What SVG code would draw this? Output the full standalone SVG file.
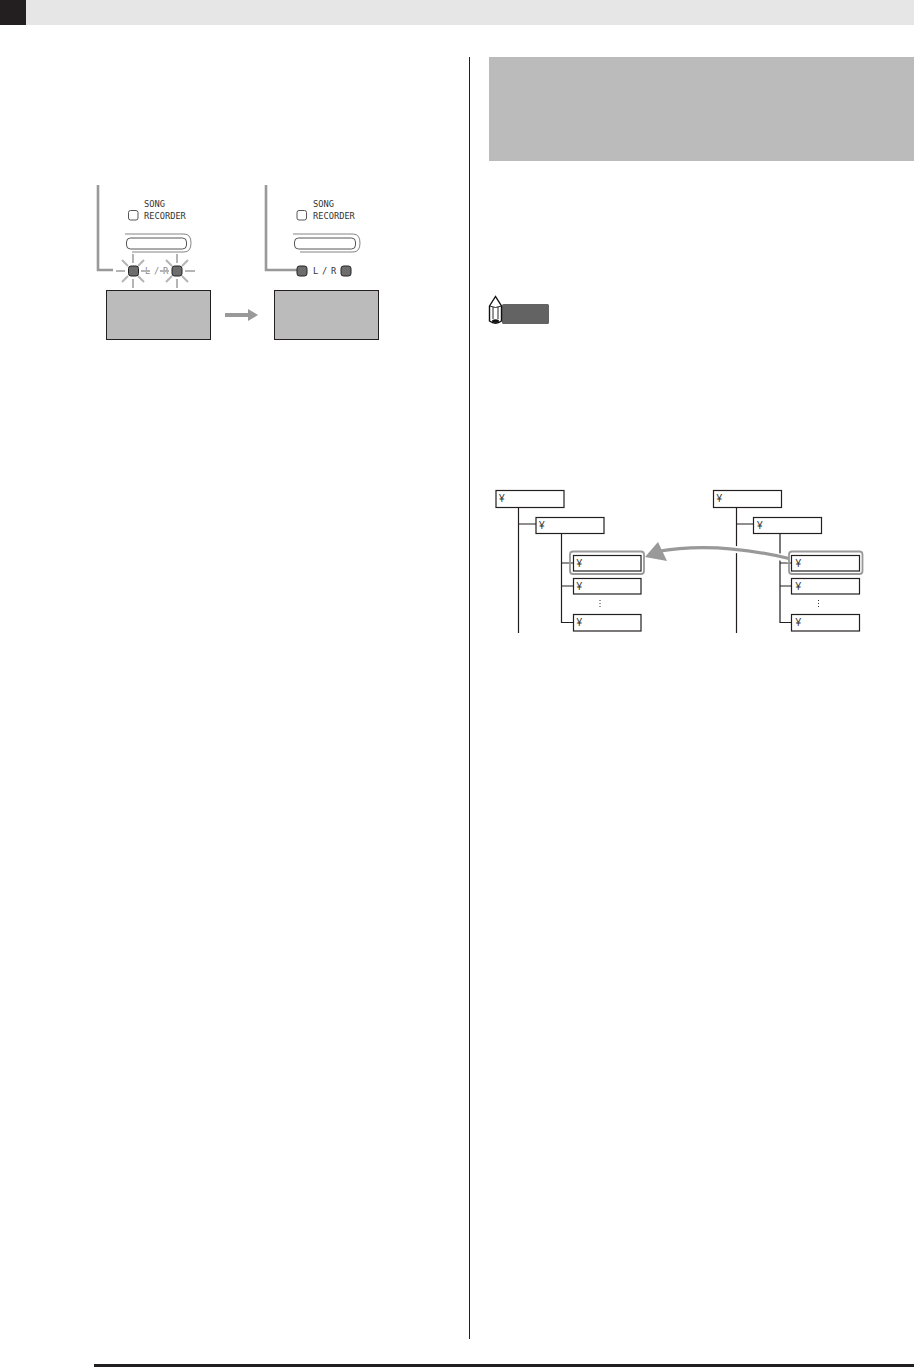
<svg xmlns="http://www.w3.org/2000/svg" width="914" height="1367" viewBox="0 0 914 1367">
<style>
.t{font-family:"DejaVu Sans Mono","Liberation Mono",monospace;font-size:8.700px;fill:#333}
.lr{font-family:"DejaVu Sans Mono","Liberation Mono",monospace;font-size:8.700px;fill:#333;letter-spacing:-.7px}
.y{font-family:"Liberation Sans",Arial,sans-serif;font-size:10px;fill:#333}
.box{fill:#fff;stroke:#231f20;stroke-width:1.2}
.gb{fill:#bbb;stroke:#231f20;stroke-width:1}
.ln{fill:none;stroke:#231f20;stroke-width:1.2}
.pl{fill:none;stroke:#999;stroke-width:2.600}
.led{fill:#6d6d6d;stroke:#222;stroke-width:1}
.sq{fill:#fff;stroke:#444;stroke-width:.9}
.ray{stroke:#b5b5b5;stroke-width:2;fill:none}
.hl{fill:none;stroke:#999;stroke-width:1.800}
</style>
<g id="page">
<rect x="0" y="0" width="914" height="25" fill="#e6e6e6"/>
<rect x="0" y="0" width="26" height="25" fill="#231f20"/>
<rect x="469" y="57" width="1" height="1282" fill="#231f20"/>
<rect x="489" y="57" width="425" height="104" fill="#bbb"/>
<rect x="94" y="1364" width="820" height="3" fill="#231f20"/>
</g>
<g id="note">
<rect x="502" y="304" width="47" height="20" rx="1.500" fill="#636363"/>
<path d="M489.500 306L495.500 296.500L501.500 306V321Q495.500 325.500 489.500 321Z" fill="#fff" stroke="#111" stroke-width="1.400"/>
<path d="M493 307V319M498 307V319M489.500 306Q495.500 309 501.500 306" fill="none" stroke="#111" stroke-width=".9"/>
<ellipse cx="495.500" cy="321" rx="3.500" ry="1.800" fill="#111"/>
</g>
<g id="panel-left">
<path class="pl" d="M98 185V270H113"/>
<rect class="sq" x="128.500" y="210.500" width="9.500" height="9.500" rx="2"/>
<text class="t" x="144" y="207">SONG</text>
<text class="t" x="144" y="219">RECORDER</text>
<path d="M125 234H184Q191 234 191 243Q191 252 184 252H132" fill="none" stroke="#777" stroke-width=".9"/>
<rect x="126.500" y="238" width="60" height="11" rx="4" fill="#fff" stroke="#444" stroke-width=".9"/>
<text class="lr" x="145" y="274" style="fill:#888">L / R</text>
<path class="ray" d="M133 254V263M133 279V288M116 271H125M141 271H150M122 260L128 266M144 260L138 266M122 282L128 276M144 282L138 276"/>
<path class="ray" d="M177 254V263M177 279V288M160 271H169M185 271H195M166 260L172 266M188 260L182 266M166 282L172 276M188 282L182 276"/>
<rect class="led" x="128.500" y="266" width="10" height="10" rx="2.500"/>
<rect class="led" x="172" y="266" width="10" height="10" rx="2.500"/>
<rect class="gb" x="106.500" y="290.500" width="104" height="49"/>
</g>
<g id="panel-arrow">
<path d="M225 313H248V309L258 315L248 321V317H225Z" fill="#999"/>
</g>
<g id="panel-right">
<path class="pl" d="M266 185V270H297"/>
<rect class="sq" x="297" y="210.500" width="9.500" height="9.500" rx="2"/>
<text class="t" x="313" y="207">SONG</text>
<text class="t" x="313" y="219">RECORDER</text>
<path d="M293 234H353Q360 234 360 243Q360 252 353 252H300" fill="none" stroke="#777" stroke-width=".9"/>
<rect x="294.500" y="238" width="61" height="11" rx="4" fill="#fff" stroke="#444" stroke-width=".9"/>
<rect class="led" x="297" y="266" width="10" height="10" rx="2.500"/>
<text class="lr" x="313" y="274">L / R</text>
<rect class="led" x="341" y="266" width="10" height="10" rx="2.500"/>
<rect class="gb" x="274.500" y="290.500" width="104" height="49"/>
</g>
<g id="connectors">
<path class="ln" d="M518.500 507V633M518.500 524H536M561.500 533V622.500H573M561.500 563H573M561.500 586H573"/>
<path class="ln" d="M736.500 507V633M736.500 524H753M780 533V622.500H791M780 563H791M780 586H791"/>
<path d="M661 552Q715 541 789 559" fill="none" stroke="#fff" stroke-width="7"/>
<path d="M657 551.500Q715 541 789 558.500" fill="none" stroke="#999" stroke-width="3.200"/>
<path d="M645 557L658 542L667 561Z" fill="#999"/>
</g>
<g id="tree-left">
<g id="l1"><rect class="box" x="496" y="490.500" width="68" height="17"/><text class="y" x="499" y="502">¥</text></g>
<g id="l2"><rect class="box" x="536" y="517.500" width="68" height="16"/><text class="y" x="539" y="529">¥</text></g>
<rect class="hl" x="570" y="551.500" width="74" height="22.500" rx="3"/>
<g id="l3"><rect class="box" x="573.500" y="555.500" width="67.500" height="15.500"/><text class="y" x="576.500" y="567">¥</text></g>
<g id="l4"><rect class="box" x="573.500" y="578.500" width="67.500" height="15.500"/><text class="y" x="576.500" y="590">¥</text></g>
<path d="M600 600V609" stroke="#333" stroke-width="1" stroke-dasharray="1 2" fill="none"/>
<g id="l5"><rect class="box" x="573.500" y="614.500" width="67.500" height="16.500"/><text class="y" x="576.500" y="626">¥</text></g>
</g>
<g id="tree-right">
<g id="r1"><rect class="box" x="713.500" y="490.500" width="68" height="17"/><text class="y" x="716.500" y="502">¥</text></g>
<g id="r2"><rect class="box" x="753.500" y="517.500" width="68" height="16"/><text class="y" x="757" y="529">¥</text></g>
<rect class="hl" x="789" y="551.500" width="73.500" height="22.500" rx="3"/>
<g id="r3"><rect class="box" x="791.500" y="555.500" width="68" height="15.500"/><text class="y" x="795.500" y="567">¥</text></g>
<g id="r4"><rect class="box" x="791.500" y="578.500" width="68" height="15.500"/><text class="y" x="795.500" y="590">¥</text></g>
<path d="M818.500 600V609" stroke="#333" stroke-width="1" stroke-dasharray="1 2" fill="none"/>
<g id="r5"><rect class="box" x="791.500" y="614.500" width="68" height="16.500"/><text class="y" x="795.500" y="626">¥</text></g>
</g>
</svg>
